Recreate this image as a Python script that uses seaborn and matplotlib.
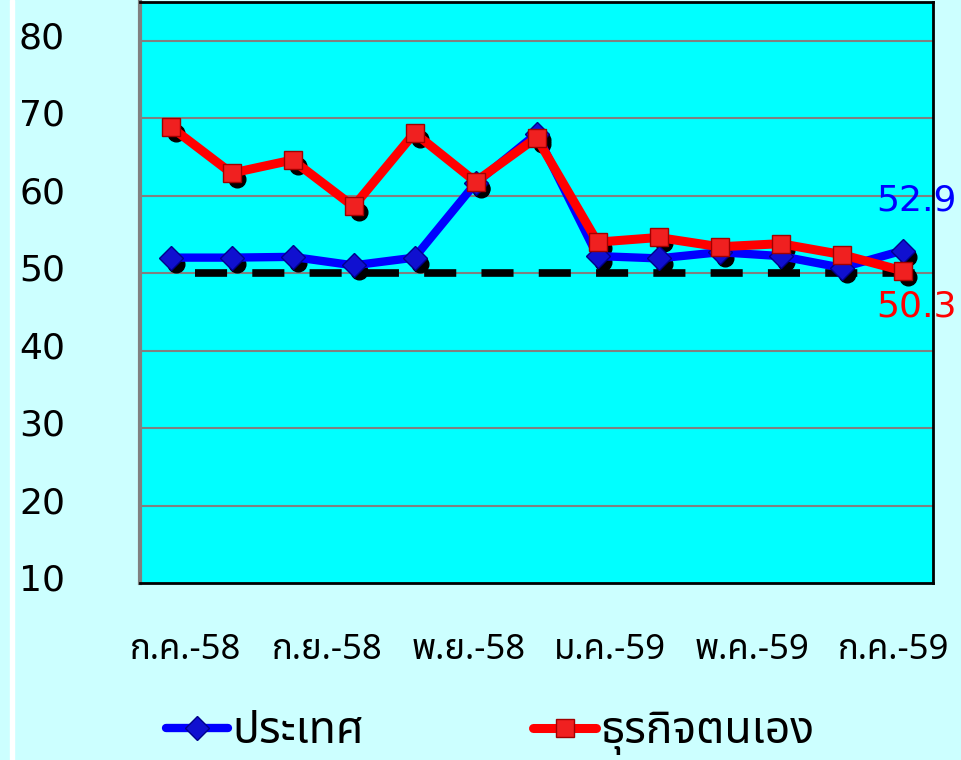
import numpy as np
import pandas as pd
import matplotlib
matplotlib.use("Agg")
import matplotlib.pyplot as plt
import seaborn as sns
from matplotlib import font_manager, ft2font
from matplotlib.transforms import offset_copy, ScaledTranslation

# -----------------------------
# Data
# -----------------------------
months = ["ก.ค.-58", "ส.ค.-58", "ก.ย.-58", "ต.ค.-58", "พ.ย.-58", "ธ.ค.-58", "ม.ค.-59",
          "ก.พ.-59", "มี.ค.-59", "เม.ย.-59", "พ.ค.-59", "มิ.ย.-59", "ก.ค.-59"]
country = [52.0, 52.0, 52.1, 51.0, 52.0, 61.6, 68.0, 52.2, 51.9, 52.7, 52.2, 50.7, 52.9]
business = [68.9, 62.9, 64.6, 58.6, 68.1, 61.8, 67.5, 54.0, 54.6, 53.4, 53.8, 52.4, 50.3]
tick_labels = ["ก.ค.-58", "ก.ย.-58", "พ.ย.-58", "ม.ค.-59", "พ.ค.-59", "ก.ค.-59"]
series_names = ["ประเทศ", "ธุรกิจตนเอง"]
threshold = 50


# -----------------------------
# Find a font with Thai glyphs
# -----------------------------
def find_thai_font():
    found = []
    for f in font_manager.fontManager.ttflist:
        try:
            cmap = ft2font.FT2Font(f.fname).get_charmap()
        except Exception:
            continue
        if 0x0E1B in cmap and 0x0E28 in cmap:
            found.append(f.name)
    for pref in ["Noto Sans Thai", "Noto Sans Thai UI", "Loma", "Garuda", "Tlwg Typo"]:
        if pref in found:
            return pref
    return found[0] if found else "DejaVu Sans"


thai = find_thai_font()

sns.set_style("white")
plt.rcParams["font.family"] = ["DejaVu Sans"]
plt.rcParams["text.color"] = "black"
plt.rcParams["xtick.color"] = "black"
plt.rcParams["ytick.color"] = "black"

df = pd.DataFrame({"x": np.arange(len(months)), "country": country, "business": business})

fig = plt.figure(figsize=(9.61, 7.6), dpi=100)
fig.patch.set_facecolor("#CCFFFF")
ax = fig.add_axes([0.1457, 0.2329, 0.9709 - 0.1457, 0.9974 - 0.2329])
ax.set_facecolor("#00FFFF")

# white strip at the far left
fig.add_artist(plt.Rectangle((0.0105, 0), 0.004, 1, transform=fig.transFigure,
                             color="white", zorder=0))

# grid
for v in range(20, 90, 10):
    ax.axhline(v, color="#808080", lw=1.5, zorder=1)

# threshold line
ax.axhline(threshold, xmin=0.069, xmax=1.005, color="black", lw=5.5,
           dashes=(4.2, 3.3), zorder=1.5, clip_on=False)

# marker shadows
shadow = offset_copy(ax.transData, fig=fig, x=5, y=-6, units="dots")
ax.plot(df["x"], df["country"], "o", color="black", ms=12, transform=shadow, zorder=2)
ax.plot(df["x"], df["business"], "o", color="black", ms=12, transform=shadow, zorder=2)

# lines
sns.lineplot(data=df, x="x", y="country", ax=ax, color="#0000FF", lw=6,
             marker="D", markersize=12, markerfacecolor="#1010D0",
             markeredgecolor="#00008B", markeredgewidth=1, zorder=3,
             label=series_names[0])
sns.lineplot(data=df, x="x", y="business", ax=ax, color="#FF0000", lw=6.5,
             marker="s", markersize=13, markerfacecolor="#F02020",
             markeredgecolor="#A00000", markeredgewidth=1, zorder=4,
             label=series_names[1])

# value labels for the last month
ax.annotate(f"{country[-1]:.1f}", (len(months) - 1, country[-1]), xytext=(10, 36),
            textcoords="offset points", ha="center", va="center",
            color="#0000FF", fontsize=26, annotation_clip=False)
ax.annotate(f"{business[-1]:.1f}", (len(months) - 1, business[-1]), xytext=(10, -26),
            textcoords="offset points", ha="center", va="center",
            color="#FF0000", fontsize=26, annotation_clip=False)

ax.set_xlim(-0.5, 12.5)
ax.set_ylim(10, 85)
ax.set_yticks(range(10, 90, 10))
ax.tick_params(axis="y", labelsize=26, length=0, pad=54, labelcolor="black")
# labels sit a little above their gridlines in the original
lift = ScaledTranslation(0, 0.06, fig.dpi_scale_trans)
for t in ax.get_yticklabels():
    t.set_transform(t.get_transform() + lift)

ax.set_xticks(np.linspace(0.25, 11.85, len(tick_labels)))
ax.set_xticklabels(tick_labels, fontsize=25, family=[thai, "DejaVu Sans"])
ax.tick_params(axis="x", length=0, pad=36, labelcolor="black")
ax.set_xlabel("")
ax.set_ylabel("")

for side in ["top", "right", "bottom"]:
    ax.spines[side].set_color("black")
    ax.spines[side].set_linewidth(2)
ax.spines["left"].set_color("#808080")
ax.spines["left"].set_linewidth(3)

leg = ax.legend(loc="center", bbox_to_anchor=(0.51, 0.036), bbox_transform=fig.transFigure,
                ncol=2, frameon=False, columnspacing=3.8, handlelength=1.4,
                handletextpad=0.1, prop={"family": [thai, "DejaVu Sans"], "size": 32})
for t in leg.get_texts():
    t.set_color("black")

fig.savefig("out.png", dpi=100, facecolor=fig.get_facecolor())
